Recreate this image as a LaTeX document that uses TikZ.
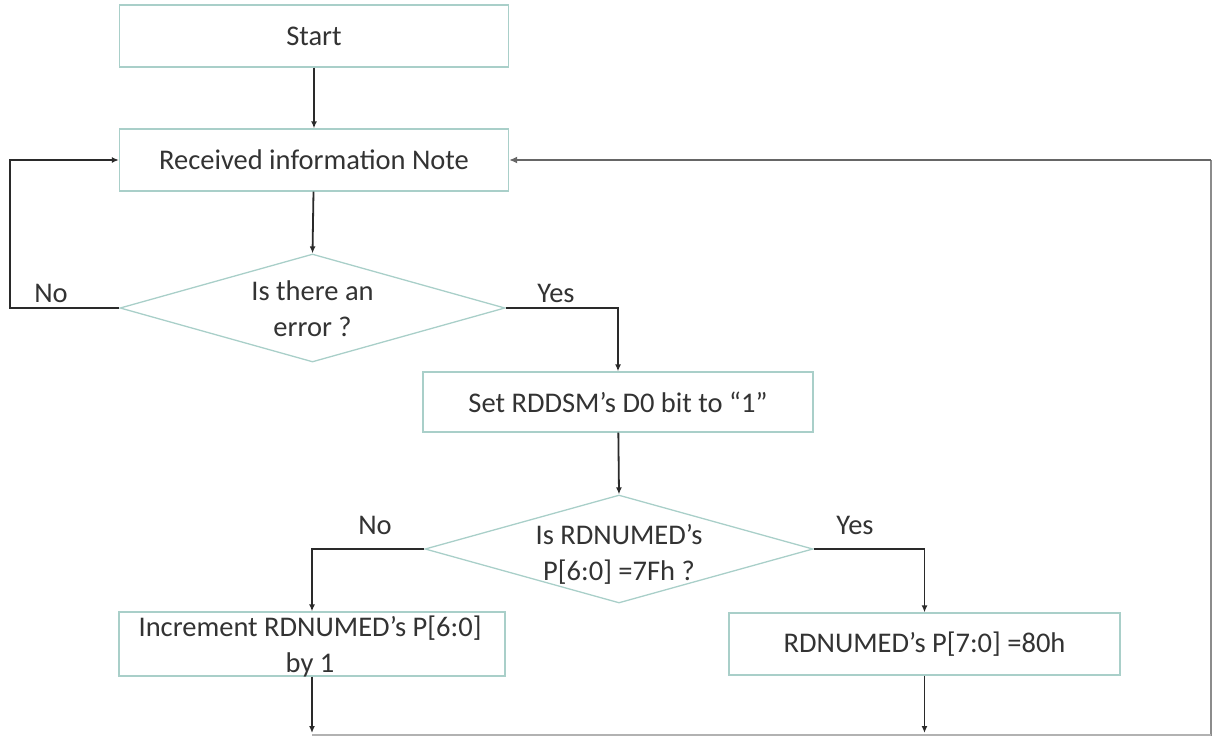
\documentclass[tikz,border=0pt]{standalone}
\usepackage{fontspec}
\setmainfont{Carlito}
\usetikzlibrary{shapes.geometric,arrows.meta}
\definecolor{boxline}{HTML}{A9CFC9}
\definecolor{txtc}{HTML}{333333}
\definecolor{linec}{HTML}{2A2A2A}
\tikzset{
  procbox/.style={draw=boxline,line width=1.3pt,rectangle,minimum width=389pt,minimum height=62pt,inner sep=0pt,align=center},
  decbox/.style={draw=boxline,line width=1.3pt,diamond,inner sep=0pt,minimum width=385pt,minimum height=108pt,aspect=3.56},
  txt/.style={text=txtc,font=\fontsize{28.5}{36}\selectfont,align=center},
  arr/.style={draw=linec,line width=1.8pt,-{Latex[length=7pt,width=6pt]}},
  plain/.style={draw=linec,line width=1.8pt},
  lbl/.style={text=txtc,font=\fontsize{28.5}{34}\selectfont}
}
\begin{document}
\begin{tikzpicture}[x=1pt,y=-1pt]
\useasboundingbox (0,0) rectangle (1214,736);
% boxes
\node[procbox,txt] (start) at (314,36) {Start};
\node[procbox,txt] (recv) at (314,160) {Received information Note};
\node[decbox] (d1) at (312.5,308) {};
\node[txt] (d1t) at (312.5,309) {Is there an\\error ?};
\node[procbox,txt,minimum width=390pt,minimum height=60pt] (set) at (618,402) {Set RDDSM’s D0 bit to “1”};
\node[decbox,minimum width=388pt] (d2) at (619,549) {};
\node[txt] (d2t) at (619,554) {Is RDNUMED’s\\P[6:0] =7Fh ?};
\node[procbox,minimum width=386pt,minimum height=64pt] (inc) at (312,644) {};
\node[txt] (inct) at (310,646) {Increment RDNUMED’s P[6:0]\\by 1};
\node[procbox,txt,minimum width=391pt,minimum height=62pt] (rdn) at (924.5,644) {RDNUMED’s P[7:0] =80h};
% labels
\node[lbl] (no1) at (51,293) {No};
\node[lbl] (yes1) at (556,293) {Yes};
\node[lbl] (no2) at (375,525) {No};
\node[lbl] (yes2) at (855,525) {Yes};
% coordinates
\coordinate (lx) at (10,308);
\coordinate (fr) at (1211,160);
\coordinate (fb) at (1211,736);
\coordinate (e1) at (312,733);
\coordinate (e2) at (924.5,733);
\coordinate (bl) at (312,735);
% connectors
\draw[arr] (start) -- (recv);
\draw[arr] (recv) -- (d1.north);
\draw[arr] (d1.west) -- (lx) |- (recv.west);
\draw[arr] (d1.east) -| (set.north);
\draw[arr] (set) -- (d2.north);
\draw[arr] (d2.west) -| (inc.north);
\draw[arr] (d2.east) -| (rdn.north);
\draw[arr] (inc) -- (e1);
\draw[arr] (rdn) -- (e2);
\draw[draw=black!45,line width=1.3pt] (fb) -- (fr);
\draw[draw=black!60,line width=2.6pt,-{Latex[length=8pt,width=7pt]}] (fr) -- (recv.east);
\draw[draw=black!30,line width=1.2pt] (bl) -- (fb |- bl);
\end{tikzpicture}
\end{document}
